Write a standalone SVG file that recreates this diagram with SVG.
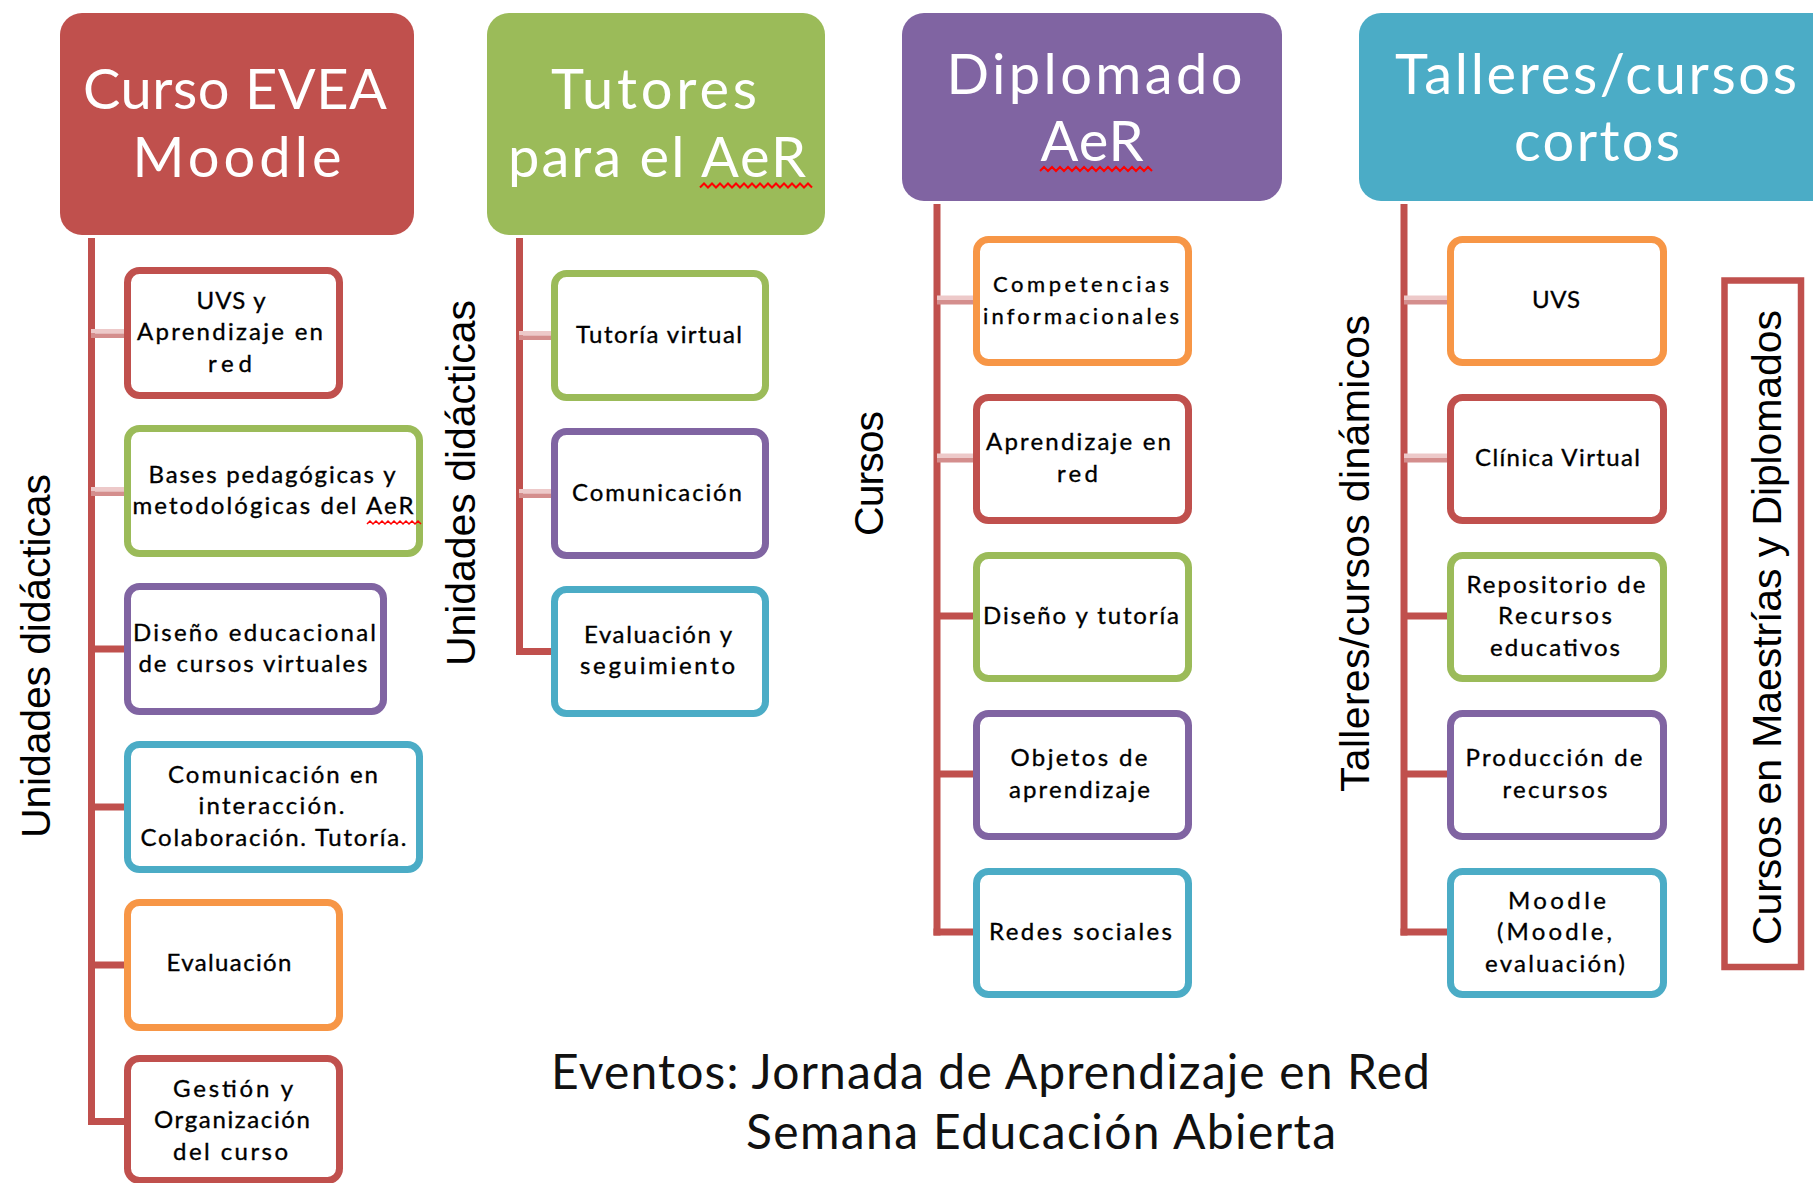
<svg xmlns="http://www.w3.org/2000/svg" width="1813" height="1183" viewBox="0 0 1813 1183">
<style>
.box{fill:#fff;stroke-width:7}
.r{stroke:#C0504D}.g{stroke:#9BBB59}.p{stroke:#8064A2}.b{stroke:#4BACC6}.o{stroke:#F79646}
.t{font-family:Lato,"Liberation Sans",Arial,sans-serif;font-size:24px;fill:#000;stroke:#000;stroke-width:0.35;text-anchor:middle}
.h{font-family:Lato,"Liberation Sans",Arial,sans-serif;font-size:56px;fill:#fff;text-anchor:middle}
.rot{font-family:"Liberation Sans",Arial,sans-serif;font-size:41px;fill:#000;text-anchor:middle}
.ev{font-family:Lato,"Liberation Sans",Arial,sans-serif;font-size:48px;fill:#111;text-anchor:middle}
.sq{fill:none;stroke:#f00;stroke-width:2}
.tr{fill:#C0504D}
.pl{fill:#EDC9C9}.pd{fill:#D48E8D}
</style>
<rect width="1813" height="1183" fill="#fff"/>

<g id="connectors">
  <rect class="tr" x="88" y="238" width="7" height="887"/>
  <rect class="pl" x="91" y="329" width="33" height="4.5"/><rect class="pd" x="91" y="333.5" width="33" height="4.5"/>
  <rect class="pl" x="91" y="487" width="33" height="4.5"/><rect class="pd" x="91" y="491.5" width="33" height="4.5"/>
  <rect class="tr" x="91" y="645.5" width="33" height="7"/>
  <rect class="tr" x="91" y="803.5" width="33" height="7"/>
  <rect class="tr" x="91" y="961.5" width="33" height="7"/>
  <rect class="tr" x="88" y="1118" width="36" height="7"/>

  <rect class="tr" x="516" y="238" width="7" height="417"/>
  <rect class="pl" x="519" y="331" width="32" height="4.5"/><rect class="pd" x="519" y="335.5" width="32" height="4.5"/>
  <rect class="pl" x="519" y="489" width="32" height="4.5"/><rect class="pd" x="519" y="493.5" width="32" height="4.5"/>
  <rect class="tr" x="516" y="648" width="35" height="7"/>

  <rect class="tr" x="933.5" y="204" width="7" height="731.5"/>
  <rect class="pl" x="937" y="295.5" width="36" height="4.5"/><rect class="pd" x="937" y="300" width="36" height="4.5"/>
  <rect class="pl" x="937" y="453.5" width="36" height="4.5"/><rect class="pd" x="937" y="458" width="36" height="4.5"/>
  <rect class="tr" x="937" y="612.5" width="36" height="7"/>
  <rect class="tr" x="937" y="770.5" width="36" height="7"/>
  <rect class="tr" x="933.5" y="928.5" width="39.5" height="7"/>

  <rect class="tr" x="1400.5" y="204" width="7" height="731.5"/>
  <rect class="pl" x="1404" y="295.5" width="43" height="4.5"/><rect class="pd" x="1404" y="300" width="43" height="4.5"/>
  <rect class="pl" x="1404" y="453.5" width="43" height="4.5"/><rect class="pd" x="1404" y="458" width="43" height="4.5"/>
  <rect class="tr" x="1404" y="612.5" width="43" height="7"/>
  <rect class="tr" x="1404" y="770.5" width="43" height="7"/>
  <rect class="tr" x="1400.5" y="928.5" width="46.5" height="7"/>
</g>

<g id="h-curso-evea">
  <rect x="60" y="13" width="354" height="222" rx="22" fill="#C0504D"/>
  <text class="h" x="235" y="109" textLength="304" lengthAdjust="spacing">Curso EVEA</text>
  <text class="h" x="237" y="176.5" textLength="209" lengthAdjust="spacing">Moodle</text>
</g>
<g id="h-tutores">
  <rect x="487" y="13" width="338" height="222" rx="22" fill="#9BBB59"/>
  <text class="h" x="654" y="109" textLength="206" lengthAdjust="spacing">Tutores</text>
  <text class="h" x="657" y="176.5" textLength="298" lengthAdjust="spacing">para el AeR</text>
  <path class="sq" d="M700 187.5 l4 -4 l4 4 l4 -4 l4 4 l4 -4 l4 4 l4 -4 l4 4 l4 -4 l4 4 l4 -4 l4 4 l4 -4 l4 4 l4 -4 l4 4 l4 -4 l4 4 l4 -4 l4 4 l4 -4 l4 4 l4 -4 l4 4 l4 -4 l4 4 l4 -4 l4 4"/>
</g>
<g id="h-diplomado">
  <rect x="902" y="13" width="380" height="188" rx="22" fill="#8064A2"/>
  <text class="h" x="1094.5" y="94" textLength="296" lengthAdjust="spacing">Diplomado</text>
  <text class="h" x="1092" y="160.5" textLength="103" lengthAdjust="spacing">AeR</text>
  <path class="sq" d="M1040 171 l4 -4 l4 4 l4 -4 l4 4 l4 -4 l4 4 l4 -4 l4 4 l4 -4 l4 4 l4 -4 l4 4 l4 -4 l4 4 l4 -4 l4 4 l4 -4 l4 4 l4 -4 l4 4 l4 -4 l4 4 l4 -4 l4 4 l4 -4 l4 4 l4 -4 l4 4"/>
</g>
<g id="h-talleres">
  <rect x="1359" y="13" width="480" height="188" rx="22" fill="#4BACC6"/>
  <text class="h" x="1596" y="94" textLength="402" lengthAdjust="spacing">Talleres/cursos</text>
  <text class="h" x="1597" y="161" textLength="166" lengthAdjust="spacing">cortos</text>
</g>

<g id="lbl-unidades-1"><text class="rot" transform="translate(50,656) rotate(-90)" textLength="364" lengthAdjust="spacing">Unidades didácticas</text></g>
<g id="lbl-unidades-2"><text class="rot" transform="translate(475,483) rotate(-90)" textLength="366" lengthAdjust="spacing">Unidades didácticas</text></g>
<g id="lbl-cursos"><text class="rot" transform="translate(883,473.5) rotate(-90)" textLength="125" lengthAdjust="spacing">Cursos</text></g>
<g id="lbl-talleres"><text class="rot" transform="translate(1369,553.5) rotate(-90)" textLength="477" lengthAdjust="spacing">Talleres/cursos dinámicos</text></g>
<g id="n-maestrias">
  <rect x="1724.5" y="280.5" width="76.5" height="686.5" fill="#fff" stroke="#C0504D" stroke-width="6.5"/>
  <text class="rot" transform="translate(1781,627.5) rotate(-90)" textLength="635" lengthAdjust="spacing">Cursos en Maestrías y Diplomados</text>
</g>

<g id="n-uvs-red">
  <rect class="box r" x="127.5" y="270.5" width="212" height="125" rx="12"/>
  <text class="t" x="231" y="308.5" textLength="69" lengthAdjust="spacing">UVS y</text>
  <text class="t" x="230" y="340" textLength="186" lengthAdjust="spacing">Aprendizaje en</text>
  <text class="t" x="230" y="371.5" textLength="44" lengthAdjust="spacing">red</text>
</g>
<g id="n-bases">
  <rect class="box g" x="127.5" y="428.5" width="292" height="125" rx="12"/>
  <text class="t" x="272" y="482.5" textLength="247" lengthAdjust="spacing">Bases pedagógicas y</text>
  <text class="t" x="273" y="514" textLength="281" lengthAdjust="spacing">metodológicas del AeR</text>
  <path class="sq" style="stroke-width:1.5" d="M367 524 l3 -3 l3 3 l3 -3 l3 3 l3 -3 l3 3 l3 -3 l3 3 l3 -3 l3 3 l3 -3 l3 3 l3 -3 l3 3 l3 -3 l3 3 l3 -3 l3 3"/>
</g>
<g id="n-diseno-educ">
  <rect class="box p" x="127.5" y="586.5" width="256" height="125" rx="12"/>
  <text class="t" x="254.5" y="640.5" textLength="243" lengthAdjust="spacing">Diseño educacional</text>
  <text class="t" x="253" y="672" textLength="229" lengthAdjust="spacing">de cursos virtuales</text>
</g>
<g id="n-comunicacion-int">
  <rect class="box b" x="127.5" y="744.5" width="292" height="125" rx="12"/>
  <text class="t" x="273" y="782.5" textLength="210" lengthAdjust="spacing">Comunicación en</text>
  <text class="t" x="271.5" y="814" textLength="146" lengthAdjust="spacing">interacción.</text>
  <text class="t" x="273.5" y="845.5" textLength="266" lengthAdjust="spacing">Colaboración. Tutoría.</text>
</g>
<g id="n-evaluacion">
  <rect class="box o" x="127.5" y="902.5" width="212" height="125" rx="12"/>
  <text class="t" x="229" y="971" textLength="125" lengthAdjust="spacing">Evaluación</text>
</g>
<g id="n-gestion">
  <rect class="box r" x="127.5" y="1058.5" width="212" height="122" rx="12"/>
  <text class="t" x="233" y="1096.5" textLength="120" lengthAdjust="spacing">Gestión y</text>
  <text class="t" x="232" y="1128" textLength="156" lengthAdjust="spacing">Organización</text>
  <text class="t" x="230.5" y="1159.5" textLength="115" lengthAdjust="spacing">del curso</text>
</g>

<g id="n-tutoria-virtual">
  <rect class="box g" x="554.5" y="273.5" width="211" height="124" rx="12"/>
  <text class="t" x="659" y="342.5" textLength="166" lengthAdjust="spacing">Tutoría virtual</text>
</g>
<g id="n-comunicacion">
  <rect class="box p" x="554.5" y="431.5" width="211" height="124" rx="12"/>
  <text class="t" x="657" y="500.5" textLength="170" lengthAdjust="spacing">Comunicación</text>
</g>
<g id="n-evaluacion-seg">
  <rect class="box b" x="554.5" y="589.5" width="211" height="124" rx="12"/>
  <text class="t" x="658" y="642.75" textLength="148" lengthAdjust="spacing">Evaluación y</text>
  <text class="t" x="657.5" y="674.25" textLength="155" lengthAdjust="spacing">seguimiento</text>
</g>

<g id="n-competencias">
  <rect class="box o" x="976.5" y="239.5" width="212" height="123" rx="12"/>
  <text class="t" style="font-size:22px" x="1081" y="292.25" textLength="176" lengthAdjust="spacing">Competencias</text>
  <text class="t" style="font-size:22px" x="1081" y="323.75" textLength="196" lengthAdjust="spacing">informacionales</text>
</g>
<g id="n-aprendizaje-red">
  <rect class="box r" x="976.5" y="397.5" width="212" height="123" rx="12"/>
  <text class="t" x="1078.5" y="450.25" textLength="185" lengthAdjust="spacing">Aprendizaje en</text>
  <text class="t" x="1077.5" y="481.75" textLength="41" lengthAdjust="spacing">red</text>
</g>
<g id="n-diseno-tutoria">
  <rect class="box g" x="976.5" y="555.5" width="212" height="123" rx="12"/>
  <text class="t" x="1081" y="624" textLength="196" lengthAdjust="spacing">Diseño y tutoría</text>
</g>
<g id="n-objetos">
  <rect class="box p" x="976.5" y="713.5" width="212" height="123" rx="12"/>
  <text class="t" x="1079" y="766.25" textLength="137" lengthAdjust="spacing">Objetos de</text>
  <text class="t" x="1079.5" y="797.75" textLength="141" lengthAdjust="spacing">aprendizaje</text>
</g>
<g id="n-redes">
  <rect class="box b" x="976.5" y="871.5" width="212" height="123" rx="12"/>
  <text class="t" x="1080.5" y="940" textLength="183" lengthAdjust="spacing">Redes sociales</text>
</g>

<g id="n-uvs">
  <rect class="box o" x="1450.5" y="239.5" width="213" height="123" rx="12"/>
  <text class="t" x="1556" y="308" textLength="48" lengthAdjust="spacing">UVS</text>
</g>
<g id="n-clinica">
  <rect class="box r" x="1450.5" y="397.5" width="213" height="123" rx="12"/>
  <text class="t" x="1557.5" y="466" textLength="165" lengthAdjust="spacing">Clínica Virtual</text>
</g>
<g id="n-repositorio">
  <rect class="box g" x="1450.5" y="555.5" width="213" height="123" rx="12"/>
  <text class="t" x="1556" y="592.5" textLength="179" lengthAdjust="spacing">Repositorio de</text>
  <text class="t" x="1555" y="624" textLength="114" lengthAdjust="spacing">Recursos</text>
  <text class="t" x="1555" y="655.5" textLength="130" lengthAdjust="spacing">educativos</text>
</g>
<g id="n-produccion">
  <rect class="box p" x="1450.5" y="713.5" width="213" height="123" rx="12"/>
  <text class="t" x="1554" y="766.25" textLength="177" lengthAdjust="spacing">Producción de</text>
  <text class="t" x="1555" y="797.75" textLength="105" lengthAdjust="spacing">recursos</text>
</g>
<g id="n-moodle">
  <rect class="box b" x="1450.5" y="871.5" width="213" height="123" rx="12"/>
  <text class="t" x="1557" y="908.5" textLength="98" lengthAdjust="spacing">Moodle</text>
  <text class="t" x="1554.5" y="940" textLength="115" lengthAdjust="spacing">(Moodle,</text>
  <text class="t" x="1555" y="971.5" textLength="140" lengthAdjust="spacing">evaluación)</text>
</g>

<g id="eventos">
  <text class="ev" x="990.5" y="1089" textLength="879" lengthAdjust="spacing">Eventos: Jornada de Aprendizaje en Red</text>
  <text class="ev" x="1041" y="1149" textLength="590" lengthAdjust="spacing">Semana Educación Abierta</text>
</g>
</svg>
